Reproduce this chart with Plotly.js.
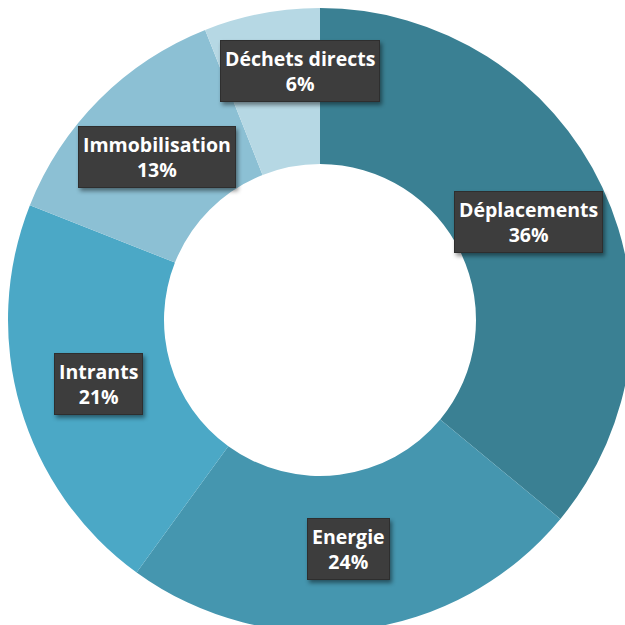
<!DOCTYPE html>
<html><head><meta charset="utf-8">
<script src="https://cdn.plot.ly/plotly-3.0.1.min.js"></script>
<style>
html,body{margin:0;padding:0;overflow:hidden;background:#fff;width:625px;height:625px;}
#chart{width:640px;height:640px;}
.annotation-text-g rect{filter:drop-shadow(2px 3px 2px rgba(0,0,0,0.45));}
</style></head>
<body><div id="chart"></div>
<script>
const categories = ["Déplacements", "Energie", "Intrants", "Immobilisation", "Déchets directs"];
const values = [36, 24, 21, 13, 6];
const colors = ["#3a8093", "#4596af", "#4ba8c6", "#8cc0d4", "#b6d8e4"];

const W = 640, H = 640;
const cx = 320, cy = 320, R = 312;
const dom = [(cx - R) / W, (cx + R) / W];

const total = values.reduce((a, b) => a + b, 0);
const annotations = [];
let cum = 0;
values.forEach((v, i) => {
  const mid = (cum + v / 2) / total * 2 * Math.PI;
  cum += v;
  const r = 0.74 * R;
  const px = cx + r * Math.sin(mid);
  const py = cy - r * Math.cos(mid);
  const a = {
    x: px / W, y: 1 - py / H, xref: "paper", yref: "paper",
    xanchor: "center", yanchor: "middle",
    text: categories[i] + "<br>" + Math.round(v / total * 100) + "%",
    showarrow: false,
    font: {family: "Open Sans, sans-serif", size: 19.5, color: "#ffffff", weight: "bold"},
    bgcolor: "#3d3d3d", bordercolor: "#2e2e2e", borderwidth: 1, borderpad: 4,
    align: "center"
  };
  if (i === values.length - 1) { a.xshift = 23; a.yshift = 22; }
  annotations.push(a);
});

const data = [{
  type: "pie",
  labels: categories,
  values: values,
  hole: 0.5,
  sort: false,
  direction: "clockwise",
  rotation: 0,
  textinfo: "none",
  hoverinfo: "label+percent",
  marker: {colors: colors, line: {width: 0}},
  domain: {x: dom, y: dom}
}];

const layout = {
  width: W, height: H,
  margin: {l: 0, r: 0, t: 0, b: 0},
  showlegend: false,
  paper_bgcolor: "#ffffff",
  annotations: annotations
};
Plotly.newPlot("chart", data, layout, {displayModeBar: false, staticPlot: true});
</script></body></html>
